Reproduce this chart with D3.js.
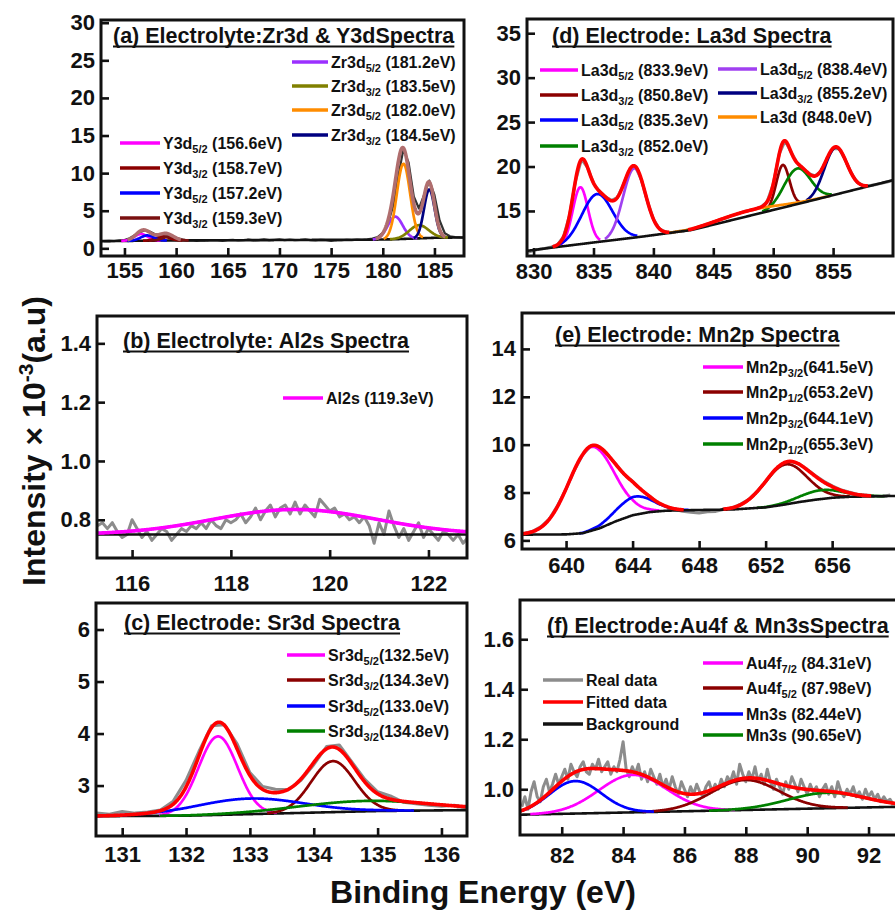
<!DOCTYPE html>
<html>
<head>
<meta charset="utf-8">
<script src="https://cdn.jsdelivr.net/npm/d3@7"></script>
<style>
  body { margin: 0; background: #fff; }
  svg { display: block; }
  text { font-family: "Liberation Sans", Arial, Helvetica, sans-serif; font-weight: bold; fill: #111; }
</style>
</head>
<body>
<svg id="chart" width="895" height="916"></svg>
<script>
// ---------------- data ----------------
// (a) Electrolyte: Zr3d & Y3d
const aTitle = "(a) Electrolyte:Zr3d & Y3dSpectra";
const aLabels = [["Zr3d", "5/2", " (181.2eV)"], ["Zr3d", "3/2", " (183.5eV)"], ["Zr3d", "5/2", " (182.0eV)"], ["Zr3d", "3/2", " (184.5eV)"],
                 ["Y3d", "5/2", " (156.6eV)"], ["Y3d", "3/2", " (158.7eV)"], ["Y3d", "5/2", " (157.2eV)"], ["Y3d", "3/2", " (159.3eV)"]];
const aCenters = [181.2, 183.5, 182.0, 184.5, 156.6, 158.7, 157.2, 159.3];
const aHeights = [3.0, 1.75, 10.0, 6.45, 0.9, 0.55, 0.7, 0.5];
const aFwhm = [1.7, 2.2, 1.5, 1.2, 1.5, 1.5, 1.5, 1.5];
const aBackground = [[152.7, 0.95], [156, 1.0], [160, 1.05], [170, 1.1], [179, 1.15], [181, 1.2], [183, 1.3], [185, 1.4], [187.9, 1.45]];
const aRealStart = 153, aRealStep = 0.5;
const aReal = [0.95, 1.0, 0.97, 1.05, 1.1, 1.35, 1.75, 2.15, 2.4, 2.2, 1.85, 1.8, 1.85, 1.7, 1.4, 1.2,
  1.05, 1.1, 1.0, 1.08, 1.02, 1.1, 1.05, 1.0, 1.08, 1.12, 1.04, 1.1, 1.15, 1.06, 1.1, 1.18, 1.08, 1.14,
  1.2, 1.1, 1.15, 1.08, 1.12, 1.18, 1.1, 1.05, 1.12, 1.08, 1.0, 1.1, 1.05, 1.12, 1.08, 1.15, 1.12, 1.2,
  1.3, 1.5, 2.05, 3.3, 5.6, 9.6, 13.2, 11.4, 6.9, 5.3, 7.1, 9.0, 7.1, 3.7, 2.0, 1.6, 1.5, 1.45, 1.42];
const aTicksX = [155, 160, 165, 170, 175, 180, 185];
const aTicksY = [0, 5, 10, 15, 20, 25, 30];

// (b) Electrolyte: Al2s
const bTitle = "(b) Electrolyte: Al2s Spectra";
const bLabels = [["Al2s", "", " (119.3eV)"]];
const bCenters = [119.3];
const bHeights = [0.085];
const bFwhm = [3.9];
const bBackground = [[115.2, 0.75], [122.9, 0.75]];
const bRealStart = 115.3, bRealStep = 0.1;
const bReal = [0.78, 0.79, 0.77, 0.79, 0.76, 0.74, 0.75, 0.80, 0.77, 0.74,
  0.76, 0.73, 0.75, 0.77, 0.76, 0.73, 0.75, 0.77, 0.76, 0.78,
  0.77, 0.79, 0.77, 0.80, 0.78, 0.77, 0.80, 0.79, 0.80, 0.82,
  0.79, 0.81, 0.84, 0.80, 0.83, 0.85, 0.81, 0.84, 0.85, 0.82,
  0.86, 0.82, 0.85, 0.83, 0.81, 0.87, 0.85, 0.83, 0.84, 0.81,
  0.82, 0.80, 0.81, 0.79, 0.81, 0.78, 0.72, 0.79, 0.75, 0.83,
  0.78, 0.74, 0.77, 0.73, 0.76, 0.79, 0.74, 0.77, 0.75, 0.73,
  0.76, 0.75, 0.73, 0.75, 0.72, 0.74];
const bTicksX = [116, 118, 120, 122];
const bTicksY = [0.8, 1.0, 1.2, 1.4];

// (c) Electrode: Sr3d
const cTitle = "(c) Electrode: Sr3d Spectra";
const cLabels = [["Sr3d", "5/2", "(132.5eV)"], ["Sr3d", "3/2", "(134.3eV)"], ["Sr3d", "5/2", "(133.0eV)"], ["Sr3d", "3/2", "(134.8eV)"]];
const cCenters = [132.5, 134.3, 133.0, 134.8];
const cHeights = [1.51, 0.98, 0.3, 0.2];
const cFwhm = [0.72, 0.8, 2.0, 2.5];
const cBackground = [[130.5, 2.41], [132, 2.42], [133, 2.45], [134, 2.48], [135, 2.51], [136.5, 2.53]];
const cRealStart = 130.6, cRealStep = 0.2;
const cReal = [2.47, 2.45, 2.50, 2.47, 2.49, 2.53, 2.70, 3.10, 3.65, 4.15, 4.17, 3.80, 3.25, 2.98, 2.93,
  2.92, 3.10, 3.40, 3.75, 3.78, 3.45, 3.12, 2.88, 2.80, 2.68, 2.65, 2.62, 2.60, 2.62, 2.57];
const cTicksX = [131, 132, 133, 134, 135, 136];
const cTicksY = [3, 4, 5, 6];

// (d) Electrode: La3d
const dTitle = "(d) Electrode: La3d Spectra";
const dLabels = [["La3d", "5/2", " (833.9eV)"], ["La3d", "3/2", " (850.8eV)"], ["La3d", "5/2", " (835.3eV)"], ["La3d", "3/2", " (852.0eV)"],
                 ["La3d", "5/2", " (838.4eV)"], ["La3d", "3/2", " (855.2eV)"], ["La3d", "", " (848.0eV)"]];
const dCenters = [833.9, 850.8, 835.3, 852.0, 838.4, 855.2, 848.0];
const dHeights = [6.4, 4.8, 5.4, 4.0, 7.8, 5.3, 0.6];
const dFwhm = [1.5, 1.3, 3.0, 2.6, 2.2, 2.2, 6.0];
const dBackground = [[829.4, 10.5], [831.1, 10.8], [835, 11.45], [839, 12.1], [843.2, 12.86], [852.7, 16.0], [860.1, 18.5]];
const dRealStart = 829.5, dRealStep = 0.5;
const dReal = [10.35, 10.55, 10.7, 10.8, 10.95, 11.2, 12.1, 14.5, 18.4, 20.8, 19.9, 18.1, 17.2, 16.6, 16.2, 16.5,
  18.0, 19.6, 20.0, 18.5, 16.1, 14.1, 13.0, 12.65, 12.55, 12.7, 12.75, 12.9, 13.1, 13.3, 13.5, 13.75, 14.0, 14.2,
  14.45, 14.65, 14.9, 15.05, 15.2, 15.45, 16.05, 18.0, 21.4, 22.9, 21.6, 20.4, 19.8, 19.2, 18.95, 19.5, 20.9, 22.0,
  22.0, 20.8, 19.3, 18.25, 17.85, 17.85, 17.95, 18.1, 18.25, 18.45];
const dTicksX = [830, 835, 840, 845, 850, 855];
const dTicksY = [15, 20, 25, 30, 35];

// (e) Electrode: Mn2p
const eTitle = "(e) Electrode: Mn2p Spectra";
const eLabels = [["Mn2p", "3/2", "(641.5eV)"], ["Mn2p", "1/2", "(653.2eV)"], ["Mn2p", "3/2", "(644.1eV)"], ["Mn2p", "1/2", "(655.3eV)"]];
const eCenters = [641.5, 653.2, 644.1, 655.3];
const eHeights = [3.5, 1.67, 0.76, 0.37];
const eFwhm = [3.2, 3.0, 2.6, 3.0];
const eBackground = [[637.3, 6.24], [640, 6.25], [641, 6.3], [642, 6.5], [643, 6.8], [644, 7.05], [645, 7.18], [646, 7.24],
  [648, 7.27], [650, 7.29], [652, 7.38], [653, 7.48], [654, 7.6], [655, 7.7], [656, 7.78], [657, 7.82], [660, 7.86]];
const eRealStart = 637.5, eRealStep = 0.5;
const eReal = [6.3, 6.38, 6.58, 6.9, 7.47, 8.15, 8.93, 9.58, 9.95, 9.92, 9.57, 9.18, 8.75, 8.47, 8.12, 7.86, 7.58, 7.42,
  7.3, 7.22, 7.18, 7.14, 7.2, 7.21, 7.3, 7.36, 7.52, 7.72, 8.05, 8.45, 8.9, 9.2, 9.3, 9.2, 8.96, 8.7, 8.47, 8.28,
  8.12, 8.02, 7.93, 7.9, 7.86, 7.83, 7.9];
const eTicksX = [640, 644, 648, 652, 656];
const eTicksY = [6, 8, 10, 12, 14];

// (f) Electrode: Au4f & Mn3s
const fTitle = "(f) Electrode:Au4f & Mn3sSpectra";
const fLabels = [["Au4f", "7/2", " (84.31eV)"], ["Au4f", "5/2", " (87.98eV)"], ["Mn3s", "", " (82.44eV)"], ["Mn3s", "", " (90.65eV)"]];
const fCenters = [84.31, 87.98, 82.44, 90.65];
const fHeights = [0.15, 0.12, 0.13, 0.062];
const fFwhm = [2.6, 2.6, 2.0, 3.0];
const fBackground = [[80.6, 0.898], [93.0, 0.93]];
const fRealStart = 80.7, fRealStep = 0.1;
const fReal = [0.93, 0.97, 0.92, 0.99, 1.03, 0.97, 0.95, 1.01, 1.04, 0.99,
  1.02, 1.06, 1.02, 1.05, 1.08, 1.04, 1.10, 1.07, 1.05, 1.09,
  1.11, 1.07, 1.06, 1.10, 1.08, 1.12, 1.07, 1.09, 1.11, 1.06,
  1.09, 1.07, 1.12, 1.19, 1.08, 1.05, 1.09, 1.06, 1.10, 1.04,
  1.07, 1.03, 1.08, 1.05, 1.02, 1.06, 1.01, 1.04, 1.00, 1.05,
  1.01, 0.98, 1.03, 1.00, 0.97, 1.01, 0.98, 1.02, 0.99, 0.97,
  1.01, 1.03, 0.99, 1.02, 1.00, 1.04, 1.01, 1.05, 1.03, 1.07,
  1.02, 1.10, 1.06, 1.03, 1.07, 1.04, 1.09, 1.03, 1.06, 1.02,
  1.08, 1.03, 1.00, 1.04, 1.01, 0.98, 1.03, 1.00, 1.05, 1.02,
  0.99, 1.04, 1.01, 0.98, 1.02, 0.99, 1.01, 0.97, 1.00, 1.02,
  0.98, 1.01, 0.97, 1.03, 0.99, 0.97, 1.00, 0.98, 1.01, 0.97,
  0.99, 0.96, 1.00, 0.97, 0.99, 0.96, 0.98, 0.95, 0.97, 0.95,
  0.96, 0.94];
const fTicksX = [82, 84, 86, 88, 90, 92];
const fTicksY = [1.0, 1.2, 1.4, 1.6];
const fSeriesLabels = ["Real data", "Fitted data", "Background"];

const xAxisTitle = "Binding Energy (eV)";

// ---------------- styles ----------------
const C = {
  pink: "#ff00ff", darkred: "#8b0000", blue: "#0000ff", green: "#008000", purple: "#9b30ff",
  olive: "#808000", orange: "#ff8c00", navy: "#000080", red: "#ff0000", gray: "#8c8c8c", black: "#111111",
  rosy: "#b06e6e"
};

// ---------------- drawing ----------------
const svg = d3.select("#chart");
const defs = svg.append("defs");

function gaussian(E, center, height, fwhm) {
  const s = fwhm / 2.3548;
  return height * Math.exp(-((E - center) ** 2) / (2 * s * s));
}

function richLabel(text, parts, fs, subFs) {
  text.attr("font-size", fs);
  text.append("tspan").text(parts[0]);
  if (parts[1]) text.append("tspan").attr("font-size", subFs).attr("dy", 4).text(parts[1]);
  text.append("tspan").attr("font-size", fs).attr("dy", parts[1] ? -4 : 0).text(parts[2]);
}

function drawPanel(p) {
  const g = svg.append("g");
  const b = p.box;
  const x = d3.scaleLinear().domain(p.xDomain).range([b.left, b.right]);
  const y = d3.scaleLinear().domain(p.yDomain).range([b.bottom, b.top]);
  const bg = d3.scaleLinear().domain(p.background.map(d => d[0])).range(p.background.map(d => d[1])).clamp(true);

  defs.append("clipPath").attr("id", "clip-" + p.id)
    .append("rect").attr("x", b.left).attr("y", b.top).attr("width", b.right - b.left).attr("height", b.bottom - b.top);
  const plot = g.append("g").attr("clip-path", `url(#clip-${p.id})`);

  const n = 700;
  const grid = d3.range(n + 1).map(i => p.xDomain[0] + (p.xDomain[1] - p.xDomain[0]) * i / n);
  const line = d3.line().x(d => x(d[0])).y(d => y(d[1])).defined(d => d[2] !== false);

  // measured spectrum
  const real = p.real.map((v, i) => [p.realStart + i * p.realStep, v]);
  plot.append("path").attr("d", line(real)).attr("fill", "none")
    .attr("stroke", p.realColor || C.gray).attr("stroke-width", p.realWidth || 3).attr("stroke-linejoin", "round");

  // background
  const bgPts = grid.map(E => [E, bg(E)]);
  const bgPath = () => plot.append("path").attr("d", line(bgPts)).attr("fill", "none")
    .attr("stroke", C.black).attr("stroke-width", 2.6);
  if (!p.bgOnTop) bgPath();

  // fitted components
  const maxH = d3.max(p.heights);
  p.centers.forEach((c, k) => {
    const pts = grid.map(E => {
      const v = gaussian(E, c, p.heights[k], p.fwhm[k]);
      return [E, bg(E) + v, v > p.heights[k] * p.compFrac];
    });
    plot.append("path").attr("d", line(pts)).attr("fill", "none")
      .attr("stroke", p.colors[k]).attr("stroke-width", 2.7).attr("stroke-linejoin", "round");
  });
  if (p.bgOnTop) bgPath();

  // fitted envelope
  const env = grid.map(E => {
    const s = d3.sum(p.centers, (c, k) => gaussian(E, c, p.heights[k], p.fwhm[k]));
    return [E, bg(E) + s, s > maxH * p.envFrac];
  });
  plot.append("path").attr("d", line(env)).attr("fill", "none")
    .attr("stroke", p.envColor).attr("stroke-width", 3.6).attr("stroke-linejoin", "round");

  // axes
  const fmt = p.yFormat ? d3.format(p.yFormat) : d3.format("d");
  const xa = g.append("g").attr("transform", `translate(0,${b.bottom})`)
    .call(d3.axisBottom(x).tickValues(p.xTicks).tickSize(-8).tickPadding(p.xPad).tickFormat(d3.format("d")));
  const ya = g.append("g").attr("transform", `translate(${b.left},0)`)
    .call(d3.axisLeft(y).tickValues(p.yTicks).tickSize(-8).tickPadding(6).tickFormat(fmt));
  [xa, ya].forEach(a => {
    a.select(".domain").remove();
    a.attr("font-size", null).attr("font-family", null);
    a.selectAll("line").attr("stroke", C.black).attr("stroke-width", 2.6);
    a.selectAll("text").attr("font-size", 22).attr("fill", C.black);
  });

  // frame
  g.append("rect").attr("x", b.left).attr("y", b.top).attr("width", b.right - b.left).attr("height", b.bottom - b.top)
    .attr("fill", "none").attr("stroke", C.black).attr("stroke-width", 3);

  // title with underline
  const t = g.append("text").attr("x", p.titlePos[0]).attr("y", p.titlePos[1]).attr("font-size", 21.5).text(p.title);
  const w = t.node().getComputedTextLength();
  g.append("line").attr("x1", p.titlePos[0]).attr("x2", p.titlePos[0] + w)
    .attr("y1", p.titlePos[1] + 3.5).attr("y2", p.titlePos[1] + 3.5).attr("stroke", C.black).attr("stroke-width", 1.8);

  // legend entries
  p.legend.forEach(L => {
    g.append("line").attr("x1", L.x1).attr("x2", L.x2).attr("y1", L.y).attr("y2", L.y)
      .attr("stroke", L.color).attr("stroke-width", 3.6);
    richLabel(g.append("text").attr("x", L.x2 + 3).attr("y", L.y + 5.5), L.parts, 16, 11);
  });
}

function legendRows(labels, colors, idx, x1, x2, rows) {
  return idx.map((k, i) => ({ parts: labels[k], color: colors[k], x1, x2, y: rows[i] }));
}

const aColors = [C.purple, C.olive, C.orange, C.navy, C.pink, C.darkred, C.blue, "#7a1010"];
const cColors = [C.pink, C.darkred, C.blue, C.green];
const dColors = [C.pink, C.darkred, C.blue, C.green, "#a040f0", C.navy, C.orange];
const eColors = [C.pink, C.darkred, C.blue, C.green];
const fColors = [C.pink, C.darkred, C.blue, C.green];

const panels = [
  { id: "a", title: aTitle, titlePos: [113, 43], box: { left: 101, top: 20, right: 464, bottom: 256 },
    xDomain: [152.73, 187.86], yDomain: [-1.02, 30.36], xTicks: aTicksX, yTicks: aTicksY, xPad: 6,
    centers: aCenters, heights: aHeights, fwhm: aFwhm, colors: aColors, background: aBackground,
    real: aReal, realStart: aRealStart, realStep: aRealStep, realColor: "#333", realWidth: 2.2,
    envColor: C.rosy, compFrac: 0.01, envFrac: 0.01,
    legend: legendRows(aLabels, aColors, [0, 1, 2, 3], 292, 328, [62, 86, 110, 135])
      .concat(legendRows(aLabels, aColors, [4, 5, 6, 7], 120, 160, [143, 168, 193, 218])) },
  { id: "d", title: dTitle, titlePos: [552, 43], box: { left: 527, top: 19, right: 893, bottom: 256 },
    xDomain: [829.45, 860.0], yDomain: [9.93, 36.6], xTicks: dTicksX, yTicks: dTicksY, xPad: 7,
    centers: dCenters, heights: dHeights, fwhm: dFwhm, colors: dColors, background: dBackground,
    real: dReal, realStart: dRealStart, realStep: dRealStep,
    envColor: C.red, compFrac: 0.03, envFrac: 0.01, bgOnTop: true,
    legend: legendRows(dLabels, dColors, [0, 1, 2, 3], 540, 578, [70, 95, 120, 146])
      .concat(legendRows(dLabels, dColors, [4, 5, 6], 718, 757, [69, 93, 117])) },
  { id: "b", title: bTitle, titlePos: [123, 348], box: { left: 97, top: 316, right: 467, bottom: 558 },
    xDomain: [115.29, 122.78], yDomain: [0.67, 1.493], xTicks: bTicksX, yTicks: bTicksY, xPad: 17, yFormat: ".1f",
    centers: bCenters, heights: bHeights, fwhm: bFwhm, colors: [C.pink], background: bBackground,
    real: bReal, realStart: bRealStart, realStep: bRealStep,
    envColor: C.pink, compFrac: 0, envFrac: 0,
    legend: legendRows(bLabels, [C.pink], [0], 283, 323, [398]) },
  { id: "e", title: eTitle, titlePos: [555, 342], box: { left: 522, top: 313, right: 898, bottom: 549 },
    xDomain: [637.35, 659.96], yDomain: [5.64, 15.5], xTicks: eTicksX, yTicks: eTicksY, xPad: 8,
    centers: eCenters, heights: eHeights, fwhm: eFwhm, colors: eColors, background: eBackground,
    real: eReal, realStart: eRealStart, realStep: eRealStep,
    envColor: C.red, compFrac: 0.01, envFrac: 0.006, bgOnTop: true,
    legend: legendRows(eLabels, eColors, [0, 1, 2, 3], 703, 743, [367, 392, 418, 444]) },
  { id: "c", title: cTitle, titlePos: [124, 630], box: { left: 96, top: 603, right: 467, bottom: 836 },
    xDomain: [130.59, 136.4], yDomain: [2.03, 6.51], xTicks: cTicksX, yTicks: cTicksY, xPad: 10,
    centers: cCenters, heights: cHeights, fwhm: cFwhm, colors: cColors, background: cBackground,
    real: cReal, realStart: cRealStart, realStep: cRealStep,
    envColor: C.red, compFrac: 0.01, envFrac: 0.0,
    legend: legendRows(cLabels, cColors, [0, 1, 2, 3], 287, 325, [655, 680, 706, 731]) },
  { id: "f", title: fTitle, titlePos: [547, 633], box: { left: 520, top: 600, right: 898, bottom: 835 },
    xDomain: [80.64, 92.96], yDomain: [0.817, 1.757], xTicks: fTicksX, yTicks: fTicksY, xPad: 12, yFormat: ".1f",
    centers: fCenters, heights: fHeights, fwhm: fFwhm, colors: fColors, background: fBackground,
    real: fReal, realStart: fRealStart, realStep: fRealStep,
    envColor: C.red, compFrac: 0.01, envFrac: 0.0,
    legend: legendRows(fLabels, fColors, [0, 1, 2, 3], 703, 743, [663, 688, 714, 735])
      .concat(fSeriesLabels.map((s, i) => ({ parts: [s, "", ""], color: [C.gray, C.red, C.black][i], x1: 543, x2: 583, y: [680, 702, 724][i] }))) }
];

panels.forEach(drawPanel);

// shared axis titles
svg.append("text").attr("transform", "translate(45,441) rotate(-90)").attr("text-anchor", "middle").attr("font-size", 32)
  .call(t => {
    t.append("tspan").text("Intensity \u00d7 10");
    t.append("tspan").attr("font-size", 21).attr("dy", -12).text("-3");
    t.append("tspan").attr("font-size", 32).attr("dy", 12).text("(a.u)");
  });
svg.append("text").attr("x", 483).attr("y", 903).attr("text-anchor", "middle").attr("font-size", 32).text(xAxisTitle);
</script>
</body>
</html>
